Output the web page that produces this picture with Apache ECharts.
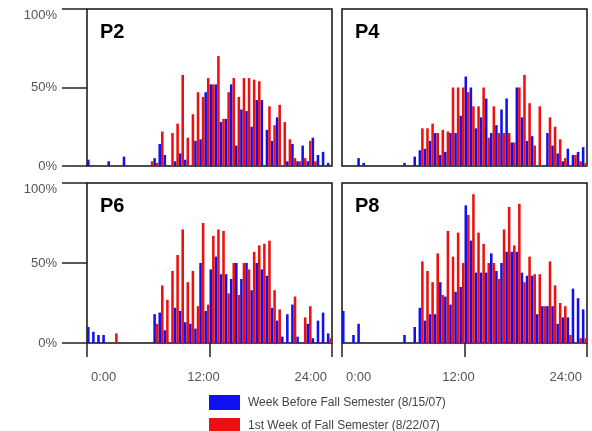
<!DOCTYPE html>
<html>
<head>
<meta charset="utf-8">
<script src="https://cdn.jsdelivr.net/npm/echarts@6/dist/echarts.min.js"></script>
<style>
  html, body { margin: 0; padding: 0; background: #fff; }
  #chart { width: 592px; height: 431px; }
</style>
</head>
<body>
<div id="chart"></div>
<script>
// half-hour bins, 0:00 .. 23:30
const bins = Array.from({ length: 48 }, (_, i) => i * 0.5);
const hourTicks = ['0:00', '12:00', '24:00'];
const pctTicks = ['0%', '50%', '100%'];
const panelNames = ['P2', 'P4', 'P6', 'P8'];
const beforeName = 'Week Before Fall Semester (8/15/07)';
const firstName = '1st Week of Fall Semester (8/22/07)';

// % occupancy per bin
const p2Before = [4,0,0,0,3,0,0,6,0,0, 0,0,0,5,14,7,0,3,8,4, 0,16,17,47,52,52,28,30,52,13, 36,35,25,42,42,23,16,31,0,3, 14,3,13,3,18,7,9,2];
const p2First  = [0,0,0,0,0,0,0,0,0,0, 0,0,3,2,22,0,21,27,58,18, 33,47,44,56,52,70,30,47,56,44, 56,56,55,54,0,38,26,39,28,17, 5,3,5,16,3,0,0,0];
const p4Before = [0,0,0,5,2,0,0,0,0,0, 0,0,2,0,6,10,11,16,21,7, 9,21,21,32,57,50,24,31,43,21, 26,36,43,15,50,31,16,19,0,0, 21,13,8,3,11,7,9,12];
const p4First  = [0,0,0,0,0,0,0,0,0,0, 0,0,0,0,0,24,24,27,21,23, 22,50,50,50,47,38,38,50,18,38, 21,21,21,15,50,58,40,13,38,0, 31,25,17,5,0,7,3,2];
const p6Before = [10,7,5,5,0,0,0,0,0,0, 0,0,0,18,19,8,0,22,20,13, 12,9,50,20,46,54,43,43,40,50, 40,50,33,50,46,42,22,14,4,18, 24,4,0,12,3,14,19,6];
const p6First  = [0,0,0,0,0,6,0,0,0,0, 0,0,0,12,36,27,45,55,71,38, 45,23,75,24,67,71,70,31,50,30, 50,46,57,61,62,64,33,21,0,0, 29,0,16,23,0,0,0,3];
const p8Before = [20,0,5,12,0,0,0,0,0,0, 0,0,5,0,10,22,14,18,18,38, 29,24,32,35,86,64,44,44,44,56, 45,50,57,57,57,44,42,42,18,23, 23,23,12,16,16,34,28,21];
const p8First  = [0,0,0,0,0,0,0,0,0,0, 0,0,0,0,0,51,45,38,56,30, 70,54,69,50,80,93,69,62,50,50, 40,71,85,61,87,38,54,43,43,23, 51,36,25,23,5,0,3,3];

const beforeData = [p2Before, p4Before, p6Before, p8Before];
const firstData = [p2First, p4First, p6First, p8First];

const chart = echarts.init(document.getElementById('chart'));
const font = 'Liberation Sans, Arial, sans-serif';

const grids = [
  { left: 87, top: 9, width: 245, height: 157 },
  { left: 342, top: 9, width: 245, height: 157 },
  { left: 87, top: 183, width: 245, height: 160 },
  { left: 342, top: 183, width: 245, height: 160 }
];

const xAxes = [];
const yAxes = [];
const series = [];
const titles = [];

grids.forEach((g, i) => {
  const isLeft = i % 2 === 0;
  const isBottom = i >= 2;
  xAxes.push({
    type: 'category', gridIndex: i, data: bins, show: false
  });
  xAxes.push({
    type: 'value', gridIndex: i, min: 0, max: 24, interval: 12,
    show: isBottom, position: 'bottom',
    axisLine: { show: false },
    splitLine: { show: false },
    axisTick: { show: true, length: 14, lineStyle: { color: '#222', width: 1.5 } },
    axisLabel: {
      margin: 28, fontSize: 13, color: '#555', fontFamily: font,
      alignMinLabel: 'left', alignMaxLabel: 'right',
      formatter: v => {
        const k = v / 12;
        return '{t' + k + '|' + hourTicks[k] + '}';
      },
      rich: {
        t0: { padding: [0, 0, 0, 4], fontSize: 13, color: '#555', fontFamily: font },
        t1: { padding: [0, 12, 0, 0], fontSize: 13, color: '#555', fontFamily: font },
        t2: { padding: [0, 5, 0, 0], fontSize: 13, color: '#555', fontFamily: font }
      }
    }
  });
  yAxes.push({
    type: 'value', gridIndex: i, min: 0, max: 100, interval: 50,
    axisLine: { show: false },
    splitLine: { show: false },
    axisTick: { show: isLeft, length: 25, lineStyle: { color: '#222', width: 1.5 } },
    axisLabel: {
      show: isLeft, margin: 30, fontSize: 13, color: '#555', fontFamily: font,
      verticalAlignMaxLabel: 'top',
      formatter: v => pctTicks[v / 50]
    }
  });
  series.push({
    name: beforeName, type: 'bar', xAxisIndex: i * 2, yAxisIndex: i,
    data: beforeData[i], barGap: '0%', barCategoryGap: '0%',
    itemStyle: { color: '#1010f0' }
  });
  series.push({
    name: firstName, type: 'bar', xAxisIndex: i * 2, yAxisIndex: i,
    data: firstData[i], barGap: '0%', barCategoryGap: '0%',
    itemStyle: { color: '#ee1010' }
  });
  titles.push({
    text: panelNames[i], left: g.left + 13, top: g.top + 13, padding: 0,
    textStyle: { fontSize: 20, fontWeight: 'bold', color: '#000', fontFamily: font }
  });
});

const legendBase = {
  orient: 'vertical', left: 209, padding: 0,
  itemWidth: 31, itemHeight: 15, icon: 'rect',
  textStyle: { fontSize: 12, color: '#444', fontFamily: font, padding: [0, 0, 0, 3] }
};

const option = {
  animation: false,
  backgroundColor: '#fff',
  title: titles,
  grid: grids.map(g => Object.assign({ show: true, borderColor: '#111', borderWidth: 1.5 }, g)),
  xAxis: xAxes,
  yAxis: yAxes,
  legend: [
    Object.assign({ top: 395, data: [beforeName] }, legendBase),
    Object.assign({ top: 418, data: [firstName] }, legendBase)
  ],
  series: series
};
chart.setOption(option);
</script>
</body>
</html>
